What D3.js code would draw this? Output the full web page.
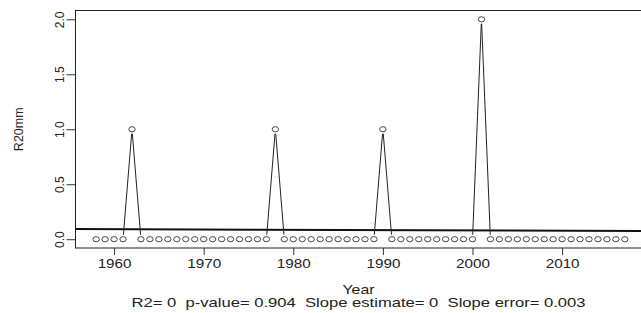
<!DOCTYPE html>
<html>
<head>
<meta charset="utf-8">
<script src="https://cdn.jsdelivr.net/npm/d3@7"></script>
<style>
  body { margin: 0; background: #fff; }
  svg { display: block; font-family: "Liberation Sans", Arial, sans-serif; }
</style>
</head>
<body>
<div id="container"></div>
<script>
/* DATA */
const years = d3.range(1958, 2018);
const r20mm = [
  0, 0, 0, 0, 1, 0, 0, 0, 0, 0,   // 1958-1967
  0, 0, 0, 0, 0, 0, 0, 0, 0, 0,   // 1968-1977
  1, 0, 0, 0, 0, 0, 0, 0, 0, 0,   // 1978-1987
  0, 0, 1, 0, 0, 0, 0, 0, 0, 0,   // 1988-1997
  0, 0, 0, 2, 0, 0, 0, 0, 0, 0,   // 1998-2007
  0, 0, 0, 0, 0, 0, 0, 0, 0, 0    // 2008-2017
];
const xTicks = [1960, 1970, 1980, 1990, 2000, 2010];
const yTicks = [0, 0.5, 1, 1.5, 2];
const xLabel = "Year", yLabel = "R20mm";
const subtitle = "R2= 0  p-value= 0.904  Slope estimate= 0  Slope error= 0.003";

/* CONSTANTS */
const width = 641, height = 313;
const margin = { top: 10.5, right: -5, bottom: 65, left: 75 };
const stretch = 1.27; // horizontal stretch of the text in the reference

const data = years.map((y, i) => ({ year: y, value: r20mm[i] }));

const svg = d3.select("#container")
  .append("svg")
  .attr("width", width)
  .attr("height", height);

// R style extended ranges (4%)
const xExt = d3.extent(years), yExt = [0, d3.max(r20mm)];
const xPad = (xExt[1] - xExt[0]) * 0.04, yPad = (yExt[1] - yExt[0]) * 0.04;

const xScale = d3.scaleLinear()
  .domain([xExt[0] - xPad, xExt[1] + xPad])
  .range([margin.left, width - margin.right]);

const yScale = d3.scaleLinear()
  .domain([yExt[0] - yPad, yExt[1] + yPad])
  .range([height - margin.bottom, margin.top]);

// clip for the regression line
svg.append("clipPath").attr("id", "plotclip")
  .append("rect")
  .attr("x", xScale.range()[0]).attr("y", yScale.range()[1])
  .attr("width", xScale.range()[1] - xScale.range()[0])
  .attr("height", yScale.range()[0] - yScale.range()[1]);

// Least squares fit
const mx = d3.mean(years), my = d3.mean(r20mm);
const sxy = d3.sum(data, d => (d.year - mx) * (d.value - my));
const sxx = d3.sum(data, d => (d.year - mx) ** 2);
const slope = sxy / sxx, intercept = my - slope * mx;
const [d0, d1] = xScale.domain();

svg.append("line")
  .attr("clip-path", "url(#plotclip)")
  .attr("x1", xScale(d0)).attr("y1", yScale(intercept + slope * d0))
  .attr("x2", xScale(d1)).attr("y2", yScale(intercept + slope * d1))
  .attr("stroke", "#111")
  .attr("stroke-width", 2);

// type = "b" : segments with a gap round each point
const gap = 4.5;
const segs = [];
for (let i = 1; i < data.length; i++) {
  const x0 = xScale(data[i - 1].year), y0 = yScale(data[i - 1].value);
  const x1 = xScale(data[i].year), y1 = yScale(data[i].value);
  const len = Math.hypot(x1 - x0, y1 - y0);
  const f = gap / len;
  if (f < 0.5) {
    segs.push({
      x1: x0 + f * (x1 - x0), y1: y0 + f * (y1 - y0),
      x2: x1 - f * (x1 - x0), y2: y1 - f * (y1 - y0)
    });
  }
}
svg.selectAll(".seg")
  .data(segs)
  .enter()
  .append("line")
  .attr("class", "seg")
  .attr("x1", d => d.x1).attr("y1", d => d.y1)
  .attr("x2", d => d.x2).attr("y2", d => d.y2)
  .attr("stroke", "#222")
  .attr("stroke-width", 1);

svg.selectAll(".pt")
  .data(data)
  .enter()
  .append("ellipse")
  .attr("class", "pt")
  .attr("cx", d => xScale(d.year))
  .attr("cy", d => yScale(d.value))
  .attr("rx", 3.2)
  .attr("ry", 2.6)
  .attr("fill", "none")
  .attr("stroke", "#333")
  .attr("stroke-width", 0.9);

// Box
svg.append("rect")
  .attr("x", xScale.range()[0] + 0.5)
  .attr("y", yScale.range()[1])
  .attr("width", xScale.range()[1] - xScale.range()[0])
  .attr("height", yScale.range()[0] - yScale.range()[1])
  .attr("fill", "none")
  .attr("stroke", "#222")
  .attr("stroke-width", 1);

// X axis
const xAxis = svg.append("g")
  .attr("transform", `translate(0,${yScale.range()[0]})`)
  .call(d3.axisBottom(xScale).tickValues(xTicks).tickFormat(d3.format("d")).tickSize(7));
xAxis.select(".domain").remove();
xAxis.selectAll("line").attr("stroke", "#333");
xAxis.selectAll("text")
  .attr("y", 20).attr("dy", 0)
  .attr("transform", `scale(${stretch},1)`)
  .attr("font-size", 12)
  .attr("font-family", "Liberation Sans, Arial, sans-serif")
  .attr("fill", "#222");

// Y axis
const yAxis = svg.append("g")
  .attr("transform", `translate(${xScale.range()[0] + 0.5},0)`)
  .call(d3.axisLeft(yScale).tickValues(yTicks).tickFormat(d3.format(".1f")).tickSize(9));
yAxis.select(".domain").remove();
yAxis.selectAll("line").attr("stroke", "#333");
yAxis.selectAll("text")
  .attr("transform", "rotate(-90)")
  .attr("x", 0).attr("y", -12).attr("dy", 0)
  .attr("text-anchor", "middle")
  .attr("font-size", 12)
  .attr("font-family", "Liberation Sans, Arial, sans-serif")
  .attr("fill", "#222");

// Axis titles
const cx = (margin.left + width - margin.right) / 2 - 2;
svg.append("text")
  .attr("transform", `translate(${cx},294) scale(${stretch},1)`)
  .attr("text-anchor", "middle")
  .attr("font-size", 12.5)
  .attr("fill", "#222")
  .text(xLabel);

svg.append("text")
  .attr("transform", `translate(23,${(yScale.range()[0] + yScale.range()[1]) / 2}) rotate(-90)`)
  .attr("text-anchor", "middle")
  .attr("font-size", 12.5)
  .attr("fill", "#222")
  .text(yLabel);

svg.append("text")
  .attr("transform", `translate(${cx},306.5) scale(1.33,1)`)
  .attr("text-anchor", "middle")
  .attr("font-size", 12.5)
  .attr("fill", "#222")
  .attr("xml:space", "preserve")
  .style("white-space", "pre")
  .text(subtitle);
</script>
</body>
</html>
